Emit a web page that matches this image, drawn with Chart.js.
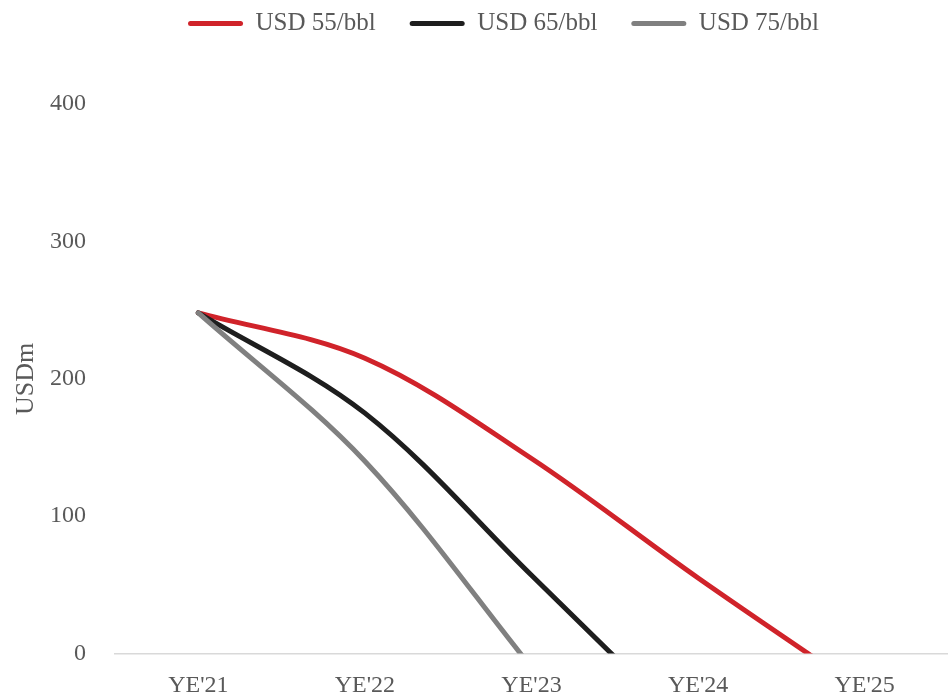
<!DOCTYPE html>
<html>
<head>
<meta charset="utf-8">
<script src="https://cdn.jsdelivr.net/npm/chart.js@4/dist/chart.umd.min.js"></script>
<style>
  html, body { margin: 0; padding: 0; background: #ffffff; }
  #wrap { width: 948px; height: 697px; }
</style>
</head>
<body>
<div id="wrap"><canvas id="c" width="948" height="697"></canvas></div>
<script>
// Categories and series (USDm)
const categories = ["YE'21", "YE'22", "YE'23", "YE'24", "YE'25"];
const seriesNames = ["USD 55/bbl", "USD 65/bbl", "USD 75/bbl"];
const usd55 = [248, 215, 142, 55, -28];
const usd65 = [248, 175, 57, -62, null];
const usd75 = [248, 140, -10, null, null];
// Value axis
const yMin = 0, yMax = 400, yStep = 100;
const yTitle = 'USDm';

const colors = ['#D0232A', '#1E1E1E', '#808080'];
const textColor = '#595959';
const fontFamily = "'Liberation Serif', 'Times New Roman', serif";

// Nudge the legend row up and slightly right, above the plot
const legendNudge = {
  id: 'legendNudge',
  afterLayout(chart) {
    const l = chart.legend;
    if (!l) return;
    const dx = 22, dy = -58;
    l.left += dx; l.right += dx;
    l.top += dy; l.bottom += dy;
  }
};

const seriesValues = [usd55, usd65, usd75];
const datasets = seriesValues.map((vals, i) => ({
  label: seriesNames[i],
  data: vals,
  borderColor: colors[i],
  backgroundColor: colors[i],
  borderWidth: 5,
  borderCapStyle: 'round',
  borderJoinStyle: 'round',
  pointRadius: 0,
  pointHoverRadius: 0,
  tension: 0.34,
  fill: false,
  clip: 0,
  order: 3 - i
}));

new Chart(document.getElementById('c'), {
  type: 'line',
  data: { labels: categories, datasets },
  options: {
    responsive: false,
    animation: false,
    devicePixelRatio: 1,
    layout: { padding: { top: 35, right: -15, bottom: 0, left: 0 } },
    plugins: {
      tooltip: { enabled: false },
      legend: {
        display: true,
        position: 'top',
        align: 'center',
        labels: {
          boxWidth: 55,
          boxHeight: 5,
          padding: 34,
          color: textColor,
          useBorderRadius: true,
          borderRadius: 2.5,
          font: { family: fontFamily, size: 25 },
          generateLabels(chart) {
            return chart.data.datasets.map((ds, i) => ({
              text: ds.label,
              fillStyle: ds.borderColor,
              strokeStyle: ds.borderColor,
              lineWidth: 0,
              borderRadius: 2.5,
              fontColor: textColor,
              hidden: false,
              datasetIndex: i
            }));
          }
        }
      }
    },
    scales: {
      x: {
        type: 'category',
        offset: true,
        grid: { display: false, drawTicks: false },
        border: { display: true, color: '#D9D9D9', width: 1.5 },
        ticks: {
          color: textColor,
          font: { family: fontFamily, size: 24 },
          padding: 18,
          maxRotation: 0,
          autoSkip: false
        },
        afterFit(scale) { scale.height = 43; }
      },
      y: {
        min: yMin,
        max: yMax,
        grid: { display: false, drawTicks: false },
        border: { display: false },
        ticks: {
          stepSize: yStep,
          color: textColor,
          font: { family: fontFamily, size: 24 },
          padding: 29
        },
        title: {
          display: true,
          text: yTitle,
          color: textColor,
          font: { family: fontFamily, size: 26 },
          padding: { top: 11, bottom: 0 }
        },
        afterFit(scale) { scale.width = 115; }
      }
    }
  },
  plugins: [legendNudge]
});
</script>
</body>
</html>
